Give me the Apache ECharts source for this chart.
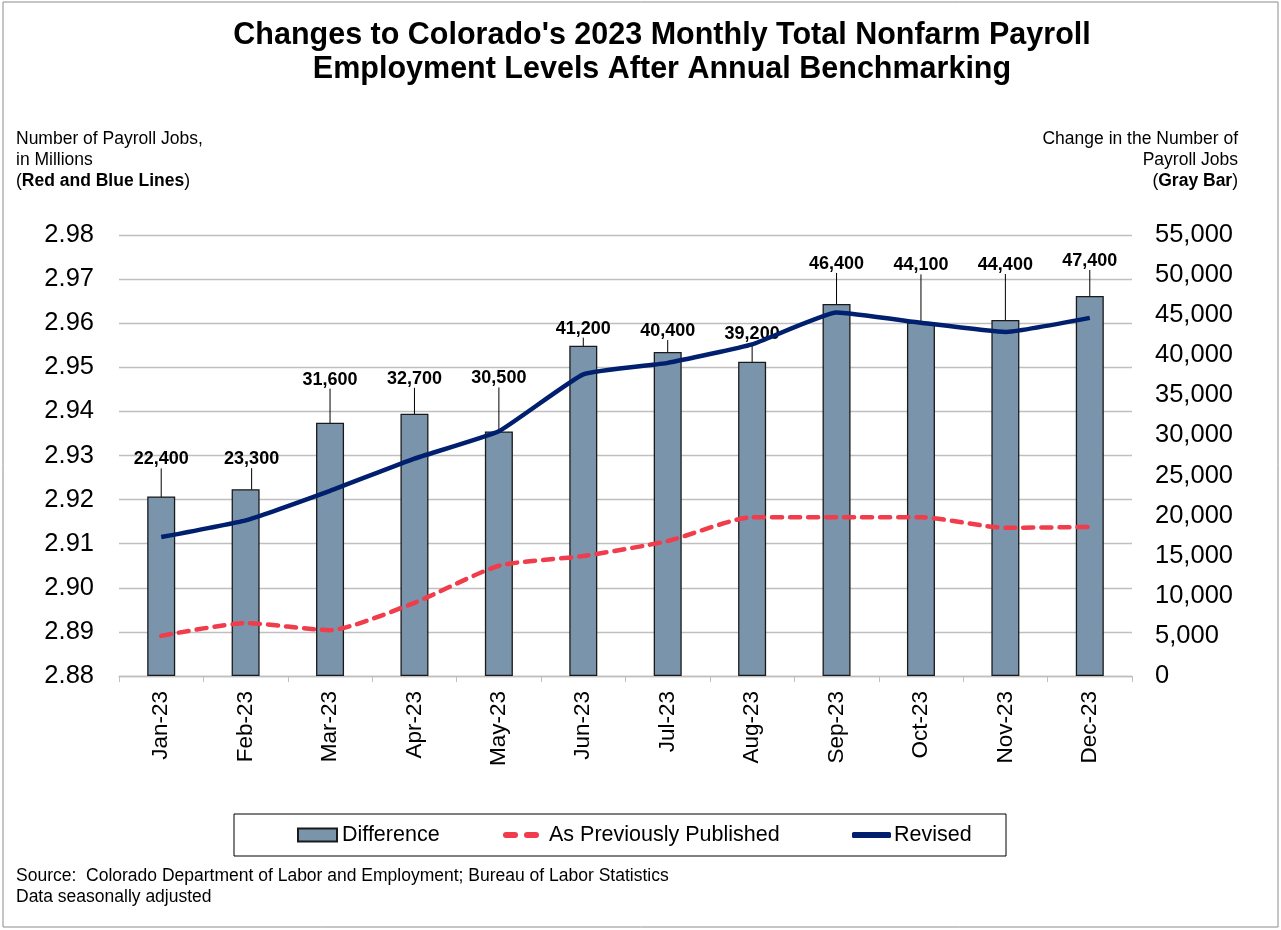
<!DOCTYPE html>
<html>
<head>
<meta charset="utf-8">
<script src="https://cdn.jsdelivr.net/npm/echarts@6/dist/echarts.min.js"></script>
<style>
  html, body { margin: 0; padding: 0; background: #fff; }
  #container { width: 1281px; height: 930px; }
</style>
</head>
<body>
<div id="container"></div>
<script>
var months = ['Jan-23', 'Feb-23', 'Mar-23', 'Apr-23', 'May-23', 'Jun-23',
              'Jul-23', 'Aug-23', 'Sep-23', 'Oct-23', 'Nov-23', 'Dec-23'];
// change in jobs (gray bars, right axis)
var difference = [22400, 23300, 31600, 32700, 30500, 41200, 40400, 39200, 46400, 44100, 44400, 47400];
// millions of jobs (left axis)
var previous = [2.8891, 2.8920, 2.8904, 2.8966, 2.9050, 2.9072, 2.9106, 2.9160, 2.9160, 2.9160, 2.9136, 2.9138];
var revised  = [2.9115, 2.9153, 2.9220, 2.9293, 2.9355, 2.9484, 2.9510, 2.9552, 2.9624, 2.9601, 2.9580, 2.9612];

var font = 'Arial, "Liberation Sans", sans-serif';
var dom = document.getElementById('container');
var myChart = echarts.init(dom);

function commas(v) {
    return String(v).replace(/\B(?=(\d{3})+(?!\d))/g, ',');
}

// data labels were dragged by hand in the original, so they sit at different heights
var labelShift = [-28, -21, -34, -26, -44, -8, -12, -19, -31, -48, -46, -26];

var legendText = { fontSize: 21.5, color: '#000', fontFamily: font, lineHeight: 24 };

var option = {
    backgroundColor: '#fff',
    animation: false,
    textStyle: { fontFamily: font },
    title: {
        text: "Changes to Colorado's 2023 Monthly Total Nonfarm Payroll\nEmployment Levels After Annual Benchmarking",
        left: 657,
        textAlign: 'center',
        top: 14,
        textStyle: { fontSize: 30.5, fontWeight: 'bold', color: '#000', lineHeight: 34, fontFamily: font }
    },
    graphic: [
        {
            type: 'rect',
            shape: { x: 3, y: 2, width: 1275, height: 925 },
            style: { fill: 'none', stroke: '#8c8c8c', lineWidth: 1 },
            silent: true
        },
        {
            type: 'rect',
            shape: { x: 234, y: 814, width: 772, height: 42 },
            style: { fill: 'none', stroke: '#000', lineWidth: 1 },
            silent: true
        },
        {
            type: 'text',
            left: 16, top: 130,
            style: {
                text: '{n|Number of Payroll Jobs,}\n{n|in Millions}\n{n|(}{b|Red and Blue Lines}{n|)}',
                rich: {
                    n: { fontSize: 17.5, fontFamily: font, color: '#000', lineHeight: 21 },
                    b: { fontSize: 17.5, fontFamily: font, color: '#000', fontWeight: 'bold', lineHeight: 21 }
                }
            }
        },
        {
            type: 'text',
            right: 43, top: 130,
            style: {
                text: '{n|Change in the Number of}\n{n|Payroll Jobs}\n{n|(}{b|Gray Bar}{n|)}',
                align: 'right',
                rich: {
                    n: { fontSize: 17.5, fontFamily: font, color: '#000', lineHeight: 21, align: 'right' },
                    b: { fontSize: 17.5, fontFamily: font, color: '#000', fontWeight: 'bold', lineHeight: 21, align: 'right' }
                }
            }
        },
        {
            type: 'text',
            left: 16, top: 866,
            style: {
                text: 'Source:  Colorado Department of Labor and Employment; Bureau of Labor Statistics\nData seasonally adjusted',
                fontSize: 17.5, fontFamily: font, fill: '#000', lineHeight: 21
            }
        }
    ],
    legend: [
        {
            left: 297, top: 823, padding: 0,
            itemWidth: 39, itemHeight: 13,
            textStyle: legendText,
            data: [{ name: 'Difference', icon: 'rect' }]
        },
        {
            left: 503, top: 823, padding: 0,
            itemWidth: 36, itemHeight: 6,
            textStyle: { fontSize: 21.5, color: '#000', fontFamily: font, lineHeight: 24, padding: [0, 0, 0, 5] },
            data: [{
                name: 'As Previously Published',
                icon: 'path://M3,0h9a3,3 0 0 1 0,6h-9a3,3 0 0 1 0,-6z M24,0h9a3,3 0 0 1 0,6h-9a3,3 0 0 1 0,-6z'
            }]
        },
        {
            left: 852, top: 823, padding: 0,
            itemWidth: 39, itemHeight: 6,
            textStyle: { fontSize: 21.5, color: '#000', fontFamily: font, lineHeight: 24, padding: [0, 0, 0, -2] },
            data: [{ name: 'Revised', icon: 'roundRect' }]
        }
    ],
    grid: {
        left: 119,
        right: 149,
        top: 235,
        bottom: 254,
        containLabel: false
    },
    xAxis: {
        type: 'category',
        data: months,
        boundaryGap: true,
        axisLine: { show: true, lineStyle: { color: '#bfbfbf', width: 1.3 } },
        axisTick: { show: true, alignWithLabel: false, length: 6, lineStyle: { color: '#bfbfbf' } },
        axisLabel: { rotate: 90, fontSize: 22.5, color: '#000', margin: 15, fontFamily: font },
        splitLine: { show: false }
    },
    yAxis: [
        {
            type: 'value',
            min: 2.88,
            max: 2.98,
            interval: 0.01,
            axisLine: { show: false },
            axisTick: { show: false },
            axisLabel: {
                fontSize: 25.5, color: '#000', margin: 25, fontFamily: font,
                formatter: function (v) { return v.toFixed(2); }
            },
            splitLine: { show: true, lineStyle: { color: '#bfbfbf', width: 1.3 } }
        },
        {
            type: 'value',
            min: 0,
            max: 55000,
            interval: 5000,
            axisLine: { show: false },
            axisTick: { show: false },
            axisLabel: {
                fontSize: 25.5, color: '#000', margin: 23, fontFamily: font,
                formatter: function (v) { return commas(v); }
            },
            splitLine: { show: false }
        }
    ],
    series: [
        {
            name: 'Difference',
            type: 'bar',
            yAxisIndex: 1,
            data: difference,
            barWidth: 28,
            itemStyle: { color: '#7a95ab', borderColor: '#1a1a1a', borderWidth: 1.3 },
            label: {
                show: true,
                position: 'top',
                distance: 0,
                fontSize: 18,
                fontWeight: 'bold',
                color: '#000',
                fontFamily: font,
                formatter: function (p) { return commas(p.value); }
            },
            labelLayout: function (p) {
                return { dy: labelShift[p.dataIndex], dx: p.dataIndex === 1 ? 6 : 0 };
            },
            labelLine: { show: true, lineStyle: { color: '#000', width: 1 } },
            z: 1
        },
        {
            name: 'As Previously Published',
            type: 'line',
            yAxisIndex: 0,
            data: previous,
            smooth: 0.2,
            symbol: 'none',
            color: '#f03c4b',
            itemStyle: { color: '#f03c4b' },
            lineStyle: { color: '#f03c4b', width: 4.5, type: [10, 8], cap: 'round' },
            z: 3
        },
        {
            name: 'Revised',
            type: 'line',
            yAxisIndex: 0,
            data: revised,
            smooth: 0.12,
            symbol: 'none',
            color: '#001f6e',
            itemStyle: { color: '#001f6e' },
            lineStyle: { color: '#001f6e', width: 4.5 },
            z: 4
        }
    ]
};

myChart.setOption(option);
</script>
</body>
</html>
